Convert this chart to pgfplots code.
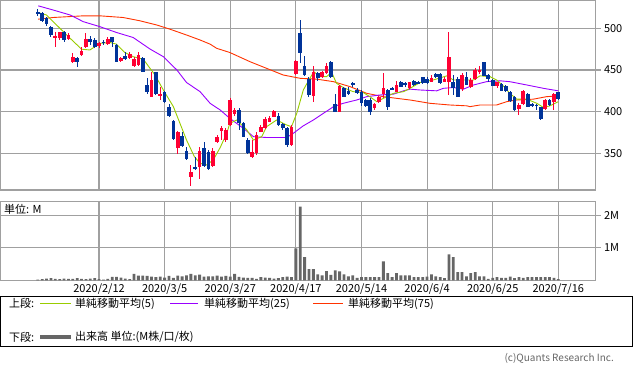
\documentclass[border=0pt]{standalone}
\usepackage{fontspec}
\setmainfont{Noto Sans CJK JP}
\usepackage{pgfplots}
\usepackage{pgfplotstable}
\pgfplotsset{compat=1.18}
\definecolor{upc}{RGB}{255,0,51}
\definecolor{dnc}{RGB}{0,51,153}
\definecolor{ma5}{RGB}{153,204,0}
\definecolor{ma25}{RGB}{153,0,255}
\definecolor{ma75}{RGB}{255,51,0}
\definecolor{gridc}{RGB}{160,160,160}
\definecolor{volc}{RGB}{102,102,102}

\pgfplotstableread{
i O H L C
4 489 496 477 491
5 488 496 486 495
7 487 494 486 492
8 459 470 458 465
10 468 477 467 473
11 477 494 476 487
14 479 484 476 482
16 481 489 480 487
19 461 466 459 464
21 464 472 463 469
22 455 465 454 463
23 456 471 455 468
26 418 448 417 438
28 419 430 414 421
32 356 377 349 376
35 321 336 311 327
37 333 357 319 353
40 335 356 333 353
41 364 372 362 370
42 377 383 366 380
43 366 380 364 378
44 384 416 383 414
45 397 404 395 402
49 346 366 344 352
50 350 375 348 372
51 376 384 375 382
52 380 393 379 391
53 388 395 387 392
54 394 402 393 401
58 360 384 359 382
59 445 462 444 461
63 419 455 412 447
65 441 449 440 448
66 446 458 445 455
69 400 432 399 431
77 404 410 402 409
78 411 419 410 418
79 421 446 416 428
82 424 437 423 432
85 428 436 427 435
90 436 444 435 440
93 436 441 435 439
94 436 495 420 465
97 427 446 425 444
99 429 440 428 438
100 439 452 438 450
101 448 455 445 450
105 431 436 428 435
110 403 410 396 408
111 409 426 408 425
116 403 415 402 414
118 412 422 402 421
}\tabUp

\pgfplotstableread{
i O H L C
0 519 523 515 518
1 518 520 508 509
2 512 513 503 505
3 502 503 490 492
6 495 497 483 486
9 464 466 454 460
12 487 491 480 483
13 486 488 476 477
15 484 486 480 483
17 489 490 477 484
18 480 481 459 460
20 467 472 462 463
24 464 465 447 448
25 432 440 421 424
27 447 448 420 421
29 424 425 410 412
30 405 409 394 395
31 389 390 366 367
33 371 375 357 359
34 353 358 342 343
36 333 346 330 332
38 356 363 334 335
39 351 354 330 331
46 402 404 378 386
47 386 388 369 370
48 366 368 349 350
55 395 398 383 384
56 385 386 378 380
57 380 381 357 360
60 494 510 458 470
61 455 467 443 444
62 439 441 418 420
64 446 448 437 440
67 459 461 440 441
68 409 421 399 400
70 428 430 417 418
71 425 429 420 421
72 434 436 430 433
73 426 428 421 422
74 424 426 407 410
75 414 415 406 407
76 414 416 396 400
80 426 427 402 405
81 428 430 426 427
83 436 437 429 430
84 434 436 430 432
86 437 438 431 432
87 435 437 433 434
88 441 442 433 434
89 439 441 433 434
91 445 446 440 441
92 445 446 433 434
95 436 444 420 428
96 439 441 417 417
98 442 447 432 432
102 459 460 443 443
103 444 445 436 439
104 438 439 431 431
106 433 434 425 425
107 431 432 424 425
108 424 425 412 413
109 418 419 401 402
112 421 422 405 406
113 409 410 406 407
114 408 409 402 407
115 405 406 390 391
117 414 415 407 408
119 423 424 414 415
}\tabDn

\pgfplotstableread{
i v
0 0.03
1 0.04
2 0.06
3 0.07
4 0.05
5 0.04
6 0.06
7 0.05
8 0.05
9 0.07
10 0.05
11 0.04
12 0.06
13 0.07
14 0.04
15 0.03
16 0.05
17 0.11
18 0.11
19 0.09
20 0.06
21 0.04
22 0.20
23 0.15
24 0.15
25 0.14
26 0.12
27 0.10
28 0.12
29 0.09
30 0.14
31 0.08
32 0.15
33 0.13
34 0.16
35 0.20
36 0.16
37 0.18
38 0.12
39 0.13
40 0.13
41 0.15
42 0.12
43 0.14
44 0.12
45 0.20
46 0.11
47 0.09
48 0.08
49 0.08
50 0.05
51 0.10
52 0.09
53 0.08
54 0.06
55 0.07
56 0.10
57 0.12
58 0.10
59 0.99
60 2.27
61 0.72
62 0.35
63 0.35
64 0.19
65 0.16
66 0.29
67 0.17
68 0.31
69 0.28
70 0.19
71 0.13
72 0.16
73 0.08
74 0.10
75 0.10
76 0.10
77 0.10
78 0.10
79 0.59
80 0.23
81 0.10
82 0.23
83 0.16
84 0.16
85 0.16
86 0.10
87 0.10
88 0.10
89 0.12
90 0.19
91 0.13
92 0.10
93 0.07
94 0.80
95 0.72
96 0.26
97 0.26
98 0.13
99 0.23
100 0.26
101 0.13
102 0.13
103 0.05
104 0.08
105 0.10
106 0.08
107 0.08
108 0.12
109 0.07
110 0.10
111 0.08
112 0.10
113 0.10
114 0.10
115 0.10
116 0.10
117 0.10
118 0.08
119 0.04
}\tabVol

\begin{document}
\begin{tikzpicture}[x=1pt,y=1pt]
\useasboundingbox (0pt,0pt) rectangle (633pt,375pt);
\pgfplotsset{
  panel/.style={
    anchor=south west, scale only axis, width=595.5pt,
    xmin=-8.64, xmax=127.5,
    xtick={14,29,44,59,74,89,104,119},
    grid=major, major grid style={gridc, line width=1.1pt},
    axis line style={gridc, line width=1.1pt},
    ytick pos=right, yticklabel pos=right,
    xtick style={draw=none},
    ytick style={gridc, line width=1.1pt},
    tick align=outside, major tick length=5pt,
    tick label style={font=\fontsize{11}{13}\selectfont, text=black},
    /pgf/number format/assume math mode=true,
  },
  candle/.style={draw=none, no markers, forget plot,
    error bars/.cd, y dir=both, y explicit, error mark=none,
    error bar style={draw=#1, solid, line cap=butt}},
}
\begin{axis}[panel, at={(0pt,185pt)}, height=190pt,
  ymin=306, ymax=534, ytick={350,400,450,500}, xticklabels={}]
\addplot[ma75, line width=0.9pt] coordinates {(0.1,511)(3.5,513)(10.4,515)(14.2,515)(19.5,513)(23.4,509)(27.2,504)(30.2,499)(34.0,492)(37.1,486)(39.4,481)(40.9,476)(43.9,471)(48.5,460)(52.3,452)(56.1,444)(60.0,440)(63.8,439)(67.6,436)(71.4,430)(75.2,422)(79.0,418)(85.1,414)(87.4,412)(89.7,410)(94.2,408)(98.1,407)(98.8,406)(101.1,408)(104.9,408)(107.2,412)(109.5,414)(113.3,415)(116.3,418)(119.0,419)};
\addplot[ma25, line width=0.9pt] coordinates {(0.1,527)(3.5,522)(7.4,516)(10.4,508)(14.2,502)(18.0,495)(21.8,489)(25.7,475)(28.7,466)(31.8,450)(34.0,435)(37.1,424)(39.4,410)(41.7,402)(43.9,392)(47.0,380)(49.3,370)(52.3,369)(56.9,369)(58.4,374)(60.7,383)(63.0,390)(65.3,398)(67.6,406)(69.8,410)(72.9,414)(75.2,418)(78.2,420)(81.3,421)(83.6,425)(85.1,427)(87.4,426)(91.2,425)(92.7,428)(95.0,429)(97.3,427)(99.6,432)(102.6,436)(105.7,437)(107.9,436)(111.8,432)(115.6,428)(119.0,425)};
\addplot[ma5, line width=0.9pt] coordinates {(0.0,519)(2.0,516)(6.6,492)(10.0,475)(11.9,474)(14.2,482)(16.5,483)(18.0,481)(19.9,471)(21.8,466)(24.1,463)(26.8,444)(28.7,426)(31.0,406)(32.5,386)(34.0,366)(35.8,346)(37.1,338)(38.6,336)(40.1,342)(41.7,357)(43.2,374)(43.9,386)(45.5,390)(47.8,378)(49.3,366)(51.2,370)(52.3,382)(54.6,390)(56.9,384)(58.0,382)(59.2,398)(60.7,426)(62.2,440)(63.1,448)(64.5,442)(66.0,442)(67.2,447)(68.3,434)(69.8,429)(72.1,424)(74.4,423)(75.9,418)(77.5,412)(79.0,416)(81.3,422)(83.6,424)(85.1,428)(87.4,435)(90.4,438)(93.5,443)(95.0,438)(99.6,438)(101.1,443)(103.4,442)(104.9,438)(106.4,431)(107.9,422)(109.5,415)(111.8,415)(114.1,410)(115.6,405)(117.1,407)(119.0,412)};
% wicks
\addplot[candle=upc, error bar style={line width=1pt}]
  table[x=i, y expr={(\thisrow{H}+\thisrow{L})/2}, y error expr={(\thisrow{H}-\thisrow{L})/2}]{\tabUp};
\addplot[candle=dnc, error bar style={line width=1pt}]
  table[x=i, y expr={(\thisrow{H}+\thisrow{L})/2}, y error expr={(\thisrow{H}-\thisrow{L})/2}]{\tabDn};
% bodies
\addplot[candle=upc, error bar style={line width=3.7pt}]
  table[x=i, y expr={(\thisrow{O}+\thisrow{C})/2}, y error expr={max((\thisrow{C}-\thisrow{O})/2,0.5)}]{\tabUp};
\addplot[candle=dnc, error bar style={line width=3.7pt}]
  table[x=i, y expr={(\thisrow{O}+\thisrow{C})/2}, y error expr={max((\thisrow{O}-\thisrow{C})/2,0.5)}]{\tabDn};
\end{axis}

\begin{axis}[panel, at={(0pt,94.5pt)}, height=78.8pt,
  ymin=0, ymax=2.42, ytick={1,2}, yticklabels={1M,2M},
  xticklabels={2020/2/12,2020/3/5,2020/3/27,2020/4/17,2020/5/14,2020/6/4,2020/6/25,2020/7/16},
  xticklabel style={yshift=5.5pt},
  ybar, bar width=2.8pt]
\addplot[fill=volc, draw=none] table[x=i, y=v]{\tabVol};
\node[anchor=north west, inner sep=0pt, font=\fontsize{11}{13}\selectfont] at (rel axis cs:0,1) [xshift=4pt, yshift=-2.5pt] {単位: M};
\end{axis}

% legend box
\draw[black, line width=0.9pt] (0.5pt,78.5pt) rectangle (632.5pt,28.5pt);
\begin{scope}[font=\fontsize{11}{13}\selectfont]
\node[anchor=west, inner sep=0pt] at (9pt,71.2pt) {上段:};
\draw[ma5, line width=0.9pt] (40pt,71.2pt) -- (71pt,71.2pt);
\node[anchor=west, inner sep=0pt] at (75pt,71.2pt) {単純移動平均(5)};
\draw[ma25, line width=0.9pt] (170pt,71.2pt) -- (198pt,71.2pt);
\node[anchor=west, inner sep=0pt] at (204pt,71.2pt) {単純移動平均(25)};
\draw[ma75, line width=0.9pt] (313pt,71.2pt) -- (343pt,71.2pt);
\node[anchor=west, inner sep=0pt] at (348pt,71.2pt) {単純移動平均(75)};
\node[anchor=west, inner sep=0pt] at (9pt,38pt) {下段:};
\draw[volc, line width=3.5pt] (40pt,38pt) -- (71pt,38pt);
\node[anchor=west, inner sep=0pt] at (75pt,38pt) {出来高 単位:(M株/口/枚)};
\end{scope}
\node[anchor=east, inner sep=0pt, text=volc, font=\fontsize{10}{12}\selectfont] at (614pt,17pt) {(c)Quants Research Inc.};
\end{tikzpicture}
\end{document}
